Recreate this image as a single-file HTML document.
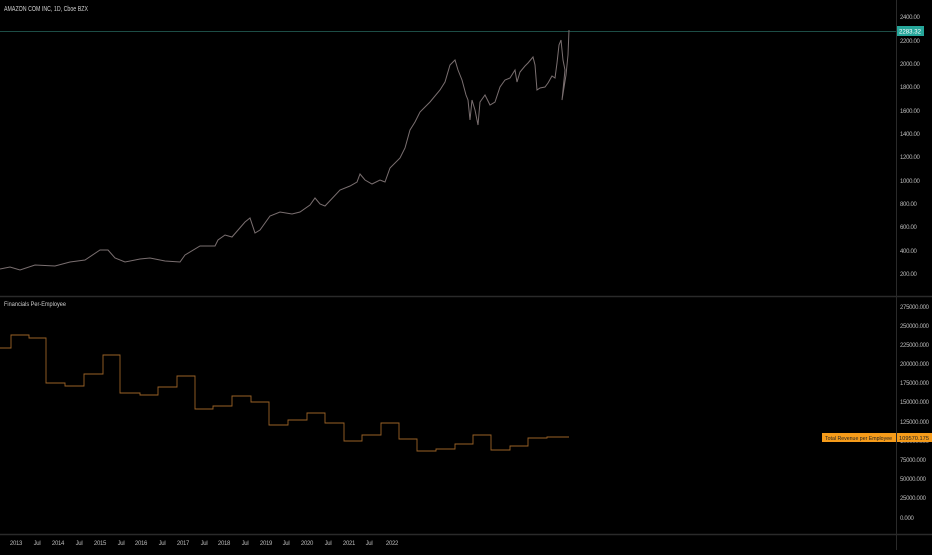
<!DOCTYPE html>
<html><head><meta charset="utf-8"><style>
body{margin:0;background:#000;width:932px;height:550px;overflow:hidden;font-family:"Liberation Sans",sans-serif}
svg text{font-family:"Liberation Sans",sans-serif}
</style></head><body>
<svg width="932" height="550" xmlns="http://www.w3.org/2000/svg">
<rect width="932" height="550" fill="#000"/>
<line x1="896.5" y1="0" x2="896.5" y2="550" stroke="#2a2a2a"/>
<line x1="0" y1="296.5" x2="932" y2="296.5" stroke="#2a2a2a" stroke-width="1.5"/>
<line x1="0" y1="534.5" x2="932" y2="534.5" stroke="#2a2a2a" stroke-width="1.5"/>
<text x="4" y="11" font-size="7" fill="#ccc" textLength="84" lengthAdjust="spacingAndGlyphs">AMAZON COM INC, 1D, Cboe BZX</text>
<text x="4" y="306" font-size="6.5" fill="#ccc" textLength="62" lengthAdjust="spacingAndGlyphs">Financials Per-Employee</text>
<line x1="0" y1="31.5" x2="896" y2="31.5" stroke="#1d4d46"/>
<g font-size="6" fill="#bbb" letter-spacing="-0.3">
<text x="900" y="19">2400.00</text><text x="900" y="43">2200.00</text><text x="900" y="66">2000.00</text>
<text x="900" y="89">1800.00</text><text x="900" y="113">1600.00</text><text x="900" y="136">1400.00</text>
<text x="900" y="159">1200.00</text><text x="900" y="183">1000.00</text><text x="900" y="206">800.00</text>
<text x="900" y="229">600.00</text><text x="900" y="253">400.00</text><text x="900" y="276">200.00</text>
<text x="900" y="309">275000.000</text><text x="900" y="328">250000.000</text><text x="900" y="347">225000.000</text>
<text x="900" y="366">200000.000</text><text x="900" y="385">175000.000</text><text x="900" y="404">150000.000</text>
<text x="900" y="424">125000.000</text><text x="900" y="443">100000.000</text><text x="900" y="462">75000.000</text>
<text x="900" y="481">50000.000</text><text x="900" y="500">25000.000</text><text x="900" y="520">0.000</text>
</g>
<rect x="897" y="26" width="27" height="10" fill="#26a69a"/>
<text x="899" y="33.5" font-size="6" fill="#fff" textLength="22" lengthAdjust="spacingAndGlyphs">2283.32</text>
<rect x="822" y="433" width="74" height="9" fill="#f59b1a"/>
<text x="825" y="440" font-size="5.5" fill="#222" textLength="67" lengthAdjust="spacingAndGlyphs">Total Revenue per Employee</text>
<rect x="897" y="433" width="35" height="9" fill="#f59b1a"/>
<text x="899" y="440" font-size="5.5" fill="#222" textLength="30" lengthAdjust="spacingAndGlyphs">109570.175</text>
<g font-size="6" fill="#bbb" text-anchor="middle" letter-spacing="-0.3">
<text x="16" y="545">2013</text><text x="37" y="545">Jul</text><text x="58" y="545">2014</text><text x="79" y="545">Jul</text>
<text x="100" y="545">2015</text><text x="121" y="545">Jul</text><text x="141" y="545">2016</text><text x="162" y="545">Jul</text>
<text x="183" y="545">2017</text><text x="204" y="545">Jul</text><text x="224" y="545">2018</text><text x="245" y="545">Jul</text>
<text x="266" y="545">2019</text><text x="286" y="545">Jul</text><text x="307" y="545">2020</text><text x="328" y="545">Jul</text>
<text x="349" y="545">2021</text><text x="369" y="545">Jul</text><text x="392" y="545">2022</text>
</g>
<polyline fill="none" stroke="#9a6226" stroke-width="0.9" points="0,348 11,348 11,335 29,335 29,338 46,338 46,383 65,383 65,386 84,386 84,374 103,374 103,355 120,355 120,393 140,393 140,395 158,395 158,387 177,387 177,376 195,376 195,409 213,409 213,406 232,406 232,396 251,396 251,402 269,402 269,425 288,425 288,420 307,420 307,413 325,413 325,423 344,423 344,441 362,441 362,435 381,435 381,423 399,423 399,439 417,439 417,451 436,451 436,449 455,449 455,444 473,444 473,435 491,435 491,450 510,450 510,446 528,446 528,438 547,438 547,437 569,437"/>
<polyline fill="none" stroke="#7a6f70" stroke-width="1" points="0,269 10,267 20,270 35,265 55,266 70,262 85,260 100,250 108,250 115,258 125,262 140,259 150,258 165,261 180,262 185,255 200,246 215,246 218,240 225,235 232,237 245,222 250,218 255,233 260,230 270,216 280,212 292,214 300,212 310,205 315,198 320,204 325,206 340,190 350,186 357,182 360,174 365,180 372,184 380,180 385,182 390,168 400,158 405,148 410,130 415,122 420,112 430,102 440,90 445,82 450,65 455,60 458,70 462,80 466,95 468,100 470,120 472,100 475,110 478,125 480,102 485,95 490,105 495,102 500,87 505,80 510,78 515,70 517,82 520,72 525,66 528,63 533,57 535,65 537,90 540,88 545,87 548,83 552,76 555,78 557,63 559,45 561,40 563,60 565,70 562,100 566,75 568,55 569,30"/>
</svg>
</body></html>
